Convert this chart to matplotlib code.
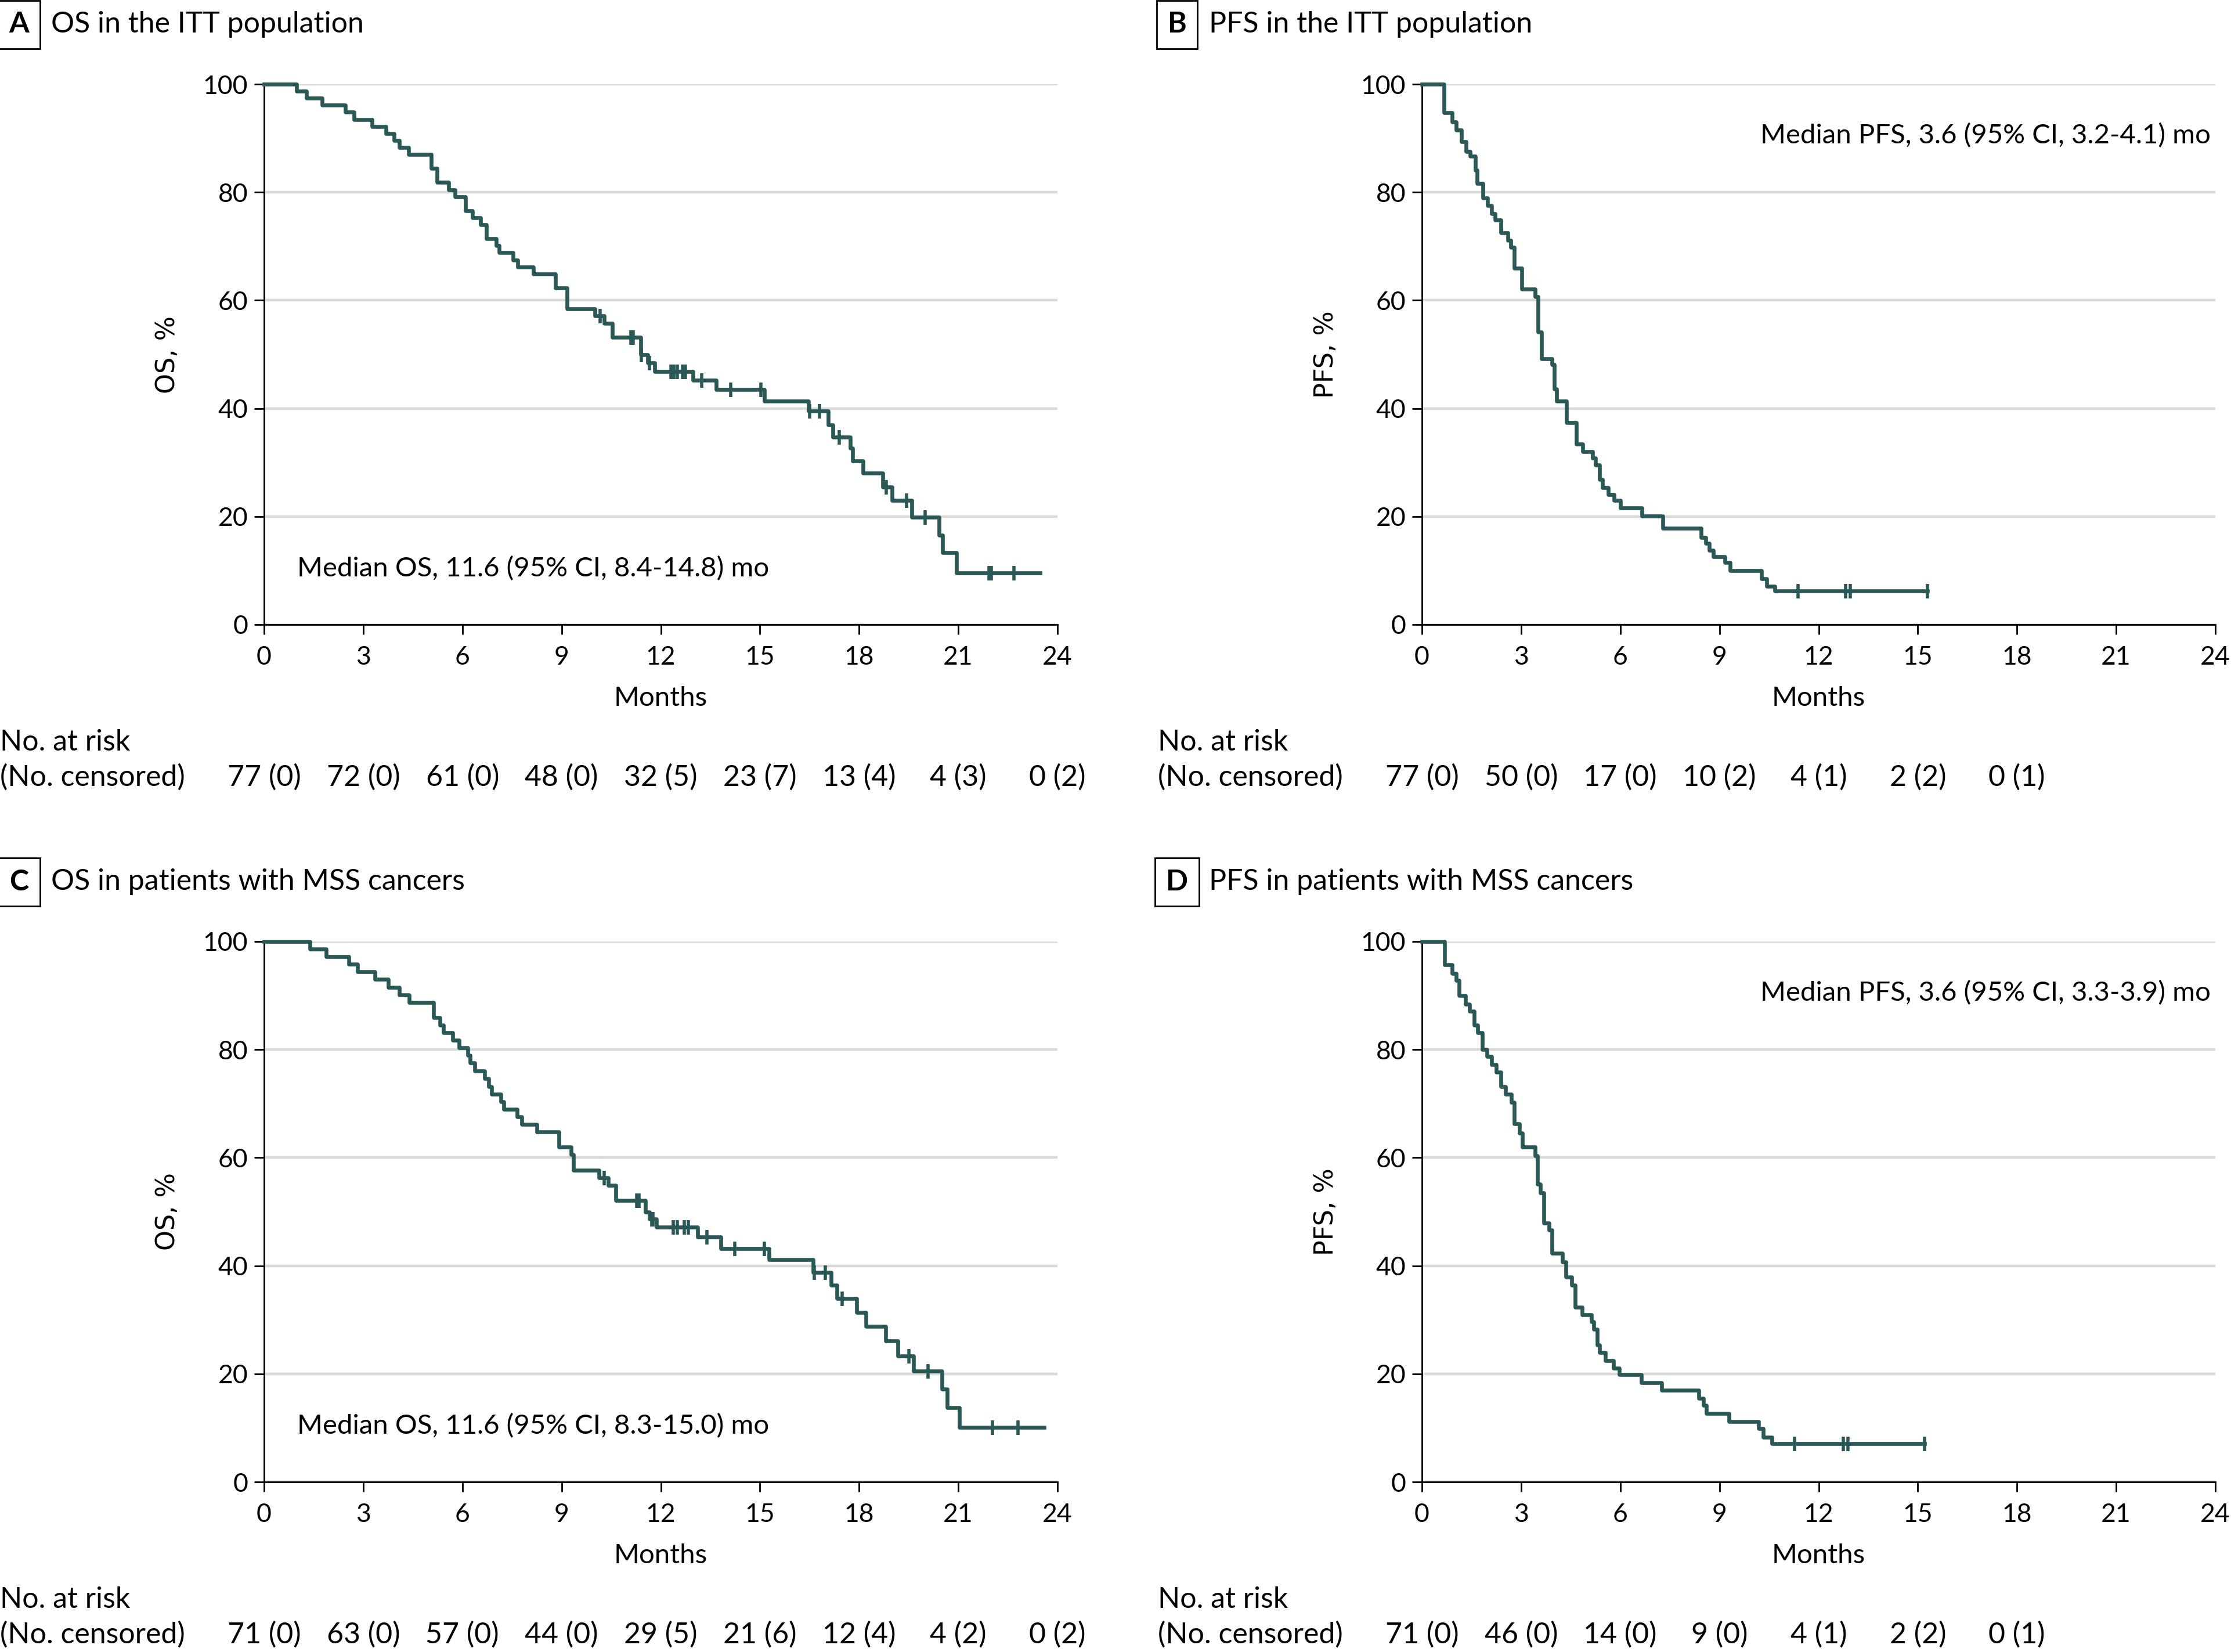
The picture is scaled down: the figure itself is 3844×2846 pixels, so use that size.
import numpy as np
import matplotlib.pyplot as plt
from matplotlib.transforms import blended_transform_factory

W, H = 3844, 2846
DPI = 200

# ---- data ----
# A: OS in the ITT population (n=77)
a_times = [0.98, 1.29, 1.75, 2.46, 2.73, 3.26, 3.68, 3.93, 4.09, 4.38,
           5.05, 5.24, 5.58, 5.78, 6.10, 6.30, 6.54, 6.73, 7.03, 7.11,
           7.53, 7.67, 8.14, 8.82, 9.16, 10.01, 10.29, 10.53, 11.40, 11.60,
           11.82, 12.98, 13.68, 15.14, 16.46, 17.06, 17.20, 17.73, 17.81, 18.11,
           18.71, 19.00, 19.59, 20.41, 20.52, 20.95]
a_surv = [98.7, 97.4, 96.1, 94.8, 93.5, 92.2, 90.9, 89.6, 88.3, 87.0,
          84.4, 81.8, 80.5, 79.2, 76.6, 75.3, 74.0, 71.4, 70.1, 68.8,
          67.5, 66.2, 64.9, 62.3, 58.4, 57.1, 55.8, 53.2, 50.0, 48.4,
          46.8, 45.2, 43.5, 41.4, 39.5, 36.9, 34.7, 32.6, 30.3, 28.0,
          25.5, 23.0, 19.9, 16.5, 13.3, 9.6]
a_cens = [10.17, 11.10, 11.17, 11.42, 11.65, 12.30, 12.40, 12.50, 12.65, 12.75,
          13.24, 14.12, 15.02, 16.50, 16.80, 17.39, 18.82, 19.44, 20.00,
          21.93, 22.00, 22.69]
a_end = 23.48
a_risk = [77, 72, 61, 48, 32, 23, 13, 4, 0]
a_nc = [0, 0, 0, 0, 5, 7, 4, 3, 2]

# B: PFS in the ITT population
b_times = [0.66, 0.91, 1.04, 1.19, 1.33, 1.46, 1.62, 1.67, 1.84, 1.99,
           2.11, 2.21, 2.38, 2.59, 2.69, 2.79, 3.02, 3.43, 3.52, 3.62,
           3.94, 4.00, 4.08, 4.37, 4.67, 4.87, 5.17, 5.25, 5.38, 5.46,
           5.63, 5.81, 6.00, 6.66, 7.28, 8.45, 8.58, 8.69, 8.82, 9.17,
           9.33, 10.27, 10.42, 10.68]
b_surv = [94.7, 93.0, 91.5, 89.4, 87.5, 86.7, 84.1, 81.6, 79.0, 77.5,
          76.1, 74.9, 72.5, 71.1, 69.8, 65.9, 62.1, 60.7, 54.1, 49.2,
          48.1, 43.6, 41.3, 37.4, 33.4, 32.0, 30.8, 29.5, 26.9, 25.4,
          24.1, 23.0, 21.6, 20.1, 17.8, 16.1, 15.0, 13.7, 12.6, 11.5,
          10.0, 8.5, 7.1, 6.2]
b_cens = [11.38, 12.81, 12.95, 15.30]
b_end = 15.30
b_risk = [77, 50, 17, 10, 4, 2, 0]
b_nc = [0, 0, 0, 2, 1, 2, 1]

# C: OS in patients with MSS cancers (n=71)
c_times = [1.39, 1.87, 2.57, 2.82, 3.35, 3.75, 4.09, 4.39, 5.13, 5.32,
           5.43, 5.70, 5.90, 6.16, 6.23, 6.38, 6.68, 6.80, 6.89, 7.17,
           7.25, 7.65, 7.79, 8.25, 8.92, 9.29, 9.35, 10.13, 10.41, 10.64,
           11.54, 11.65, 11.86, 13.11, 13.81, 15.28, 16.60, 17.15, 17.33, 17.92,
           18.21, 18.80, 19.17, 19.64, 20.51, 20.66, 21.03]
c_surv = [98.6, 97.2, 95.8, 94.4, 93.0, 91.5, 90.1, 88.7, 85.9, 84.5,
          83.1, 81.7, 80.3, 78.9, 77.5, 76.1, 74.6, 73.2, 71.8, 70.4,
          69.0, 67.6, 66.2, 64.8, 62.0, 60.6, 57.7, 56.3, 54.9, 52.1,
          50.0, 48.7, 47.2, 45.3, 43.2, 41.1, 38.8, 36.4, 33.9, 31.4,
          28.8, 26.1, 23.3, 20.5, 17.2, 13.8, 10.1]
c_cens = [10.29, 11.28, 11.34, 11.72, 11.77, 12.37, 12.50, 12.71, 12.84, 13.40,
          14.24, 15.13, 16.65, 16.98, 17.49, 19.51, 20.09, 22.04, 22.80]
c_end = 23.6
c_risk = [71, 63, 57, 44, 29, 21, 12, 4, 0]
c_nc = [0, 0, 0, 0, 5, 6, 4, 2, 2]

# D: PFS in patients with MSS cancers
d_times = [0.69, 0.91, 1.04, 1.12, 1.31, 1.44, 1.58, 1.68, 1.83, 1.97,
           2.10, 2.24, 2.38, 2.53, 2.70, 2.80, 2.95, 3.04, 3.43, 3.49,
           3.59, 3.68, 3.84, 3.94, 4.24, 4.35, 4.53, 4.64, 4.85, 5.12,
           5.20, 5.31, 5.38, 5.54, 5.79, 5.97, 6.63, 7.25, 8.37, 8.51,
           8.61, 9.28, 10.18, 10.32, 10.58]
d_surv = [95.7, 94.1, 92.8, 90.0, 88.4, 87.1, 84.5, 83.1, 80.0, 78.7,
          77.2, 75.8, 73.1, 71.7, 70.2, 66.3, 64.6, 62.0, 60.4, 55.1,
          53.5, 47.9, 46.6, 42.3, 40.7, 37.9, 36.4, 32.3, 30.9, 29.6,
          28.2, 25.3, 24.0, 22.5, 21.0, 19.9, 18.4, 17.0, 15.5, 14.2,
          12.7, 11.2, 9.9, 8.3, 7.1]
d_cens = [11.28, 12.74, 12.88, 15.21]
d_end = 15.21
d_risk = [71, 46, 14, 9, 4, 2, 0]
d_nc = [0, 0, 0, 0, 1, 2, 1]

month_ticks = list(range(0, 25, 3))

LINE = '#2a5857'
GRID = '#d9d9d9'
FONT = ['Lato', 'DejaVu Sans']
FS = 16          # tick labels
FS_TXT = 17      # median text, axis title
FS_BIG = 18      # panel titles, at-risk table

plt.rcParams['font.family'] = FONT


def fx(px):
    return px / W


def fy(py):
    return 1 - py / H


fig = plt.figure(figsize=(W / DPI, H / DPI), dpi=DPI)


def km_panel(left, top, letter, title, ylab, t, s, cens, end, risk, nc,
             median, med_left):
    right = left + 1367
    bottom = top + 931
    ax = fig.add_axes([fx(left), fy(bottom), fx(right - left), (bottom - top) / H])

    times = np.r_[0, t, end]
    surv = np.r_[100, s, s[-1]]
    ax.step(times, surv, where='post', color=LINE, lw=2.4, clip_on=False, zorder=3)
    idx = np.searchsorted(times, cens, side='right') - 1
    ax.plot(cens, surv[idx], ls='none', marker='|', ms=9, mew=2,
            color=LINE, clip_on=False, zorder=3)

    ax.set_xlim(0, 24)
    ax.set_ylim(0, 100)
    ax.set_xticks(month_ticks)
    ax.set_yticks(range(0, 101, 20))
    ax.yaxis.grid(True, color=GRID, lw=1.6)
    ax.set_axisbelow(True)
    for sp in ['top', 'right']:
        ax.spines[sp].set_visible(False)
    for sp in ['left', 'bottom']:
        ax.spines[sp].set_linewidth(1.0)
    ax.tick_params(length=6, width=1, labelsize=FS, pad=4)
    ax.tick_params(axis='x', pad=7)

    if med_left:
        ax.text(1.0, 10.3, median, fontsize=FS_TXT, va='center', ha='left')
    else:
        ax.text(23.85, 90.5, median, fontsize=FS_TXT, va='center', ha='right')

    # panel letter and title
    fig.text(fx(left - 422), fy(top - 103), letter, fontsize=FS_BIG, fontweight='bold',
             ha='center', va='center',
             bbox=dict(boxstyle='square,pad=0.38', fc='white', ec='black', lw=1.0))
    fig.text(fx(left - 367), fy(top - 103), title, fontsize=FS_BIG, ha='left', va='center')

    fig.text(fx(left - 166), fy((top + bottom) / 2), ylab, fontsize=FS,
             family='DejaVu Sans', rotation=90, ha='center', va='center')

    fig.text(fx((left + right) / 2), fy(bottom + 127), 'Months', fontsize=FS_TXT,
             ha='center', va='center')

    fig.text(fx(left - 455), fy(bottom + 203), 'No. at risk', fontsize=FS_BIG,
             ha='left', va='center')
    fig.text(fx(left - 455), fy(bottom + 263), '(No. censored)', fontsize=FS_BIG,
             ha='left', va='center')
    tr = blended_transform_factory(ax.transData, fig.transFigure)
    for m, r, c in zip(month_ticks, risk, nc):
        ax.text(m, fy(bottom + 263), f'{r} ({c})', fontsize=FS_BIG, ha='center',
                va='center', transform=tr)


km_panel(455, 145, 'A', 'OS in the ITT population', 'OS, %',
         a_times, a_surv, a_cens, a_end, a_risk, a_nc,
         'Median OS, 11.6 (95% CI, 8.4-14.8) mo', True)
km_panel(2450, 145, 'B', 'PFS in the ITT population', 'PFS, %',
         b_times, b_surv, b_cens, b_end, b_risk, b_nc,
         'Median PFS, 3.6 (95% CI, 3.2-4.1) mo', False)
km_panel(455, 1622, 'C', 'OS in patients with MSS cancers', 'OS, %',
         c_times, c_surv, c_cens, c_end, c_risk, c_nc,
         'Median OS, 11.6 (95% CI, 8.3-15.0) mo', True)
km_panel(2450, 1622, 'D', 'PFS in patients with MSS cancers', 'PFS, %',
         d_times, d_surv, d_cens, d_end, d_risk, d_nc,
         'Median PFS, 3.6 (95% CI, 3.3-3.9) mo', False)

fig.savefig('out.png', dpi=DPI, facecolor='white')
